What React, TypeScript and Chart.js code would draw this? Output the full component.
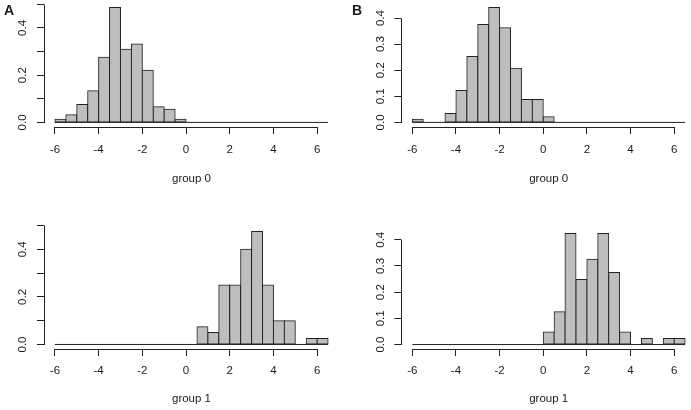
import React, { useEffect, useRef } from 'react';
import { Chart, registerables } from 'chart.js';

Chart.register(...registerables);

// ---- data ----
const BIN_WIDTH = 0.5;
const BREAK_START = -6;
const X_TICKS = [-6, -4, -2, 0, 2, 4, 6];

// 25 bins from -6 to 6.5 (densities)
const A_GROUP0 = [0.013, 0.032, 0.076, 0.134, 0.276, 0.486, 0.31, 0.332, 0.221, 0.066, 0.056, 0.013, 0, 0, 0, 0, 0, 0, 0, 0, 0, 0, 0, 0, 0];
const A_GROUP1 = [0, 0, 0, 0, 0, 0, 0, 0, 0, 0, 0, 0, 0, 0.075, 0.05, 0.25, 0.25, 0.4, 0.475, 0.25, 0.1, 0.1, 0, 0.025, 0.025];
const B_GROUP0 = [0.012, 0, 0, 0.034, 0.122, 0.253, 0.375, 0.44, 0.363, 0.208, 0.088, 0.088, 0.022, 0, 0, 0, 0, 0, 0, 0, 0, 0, 0, 0, 0];
const B_GROUP1 = [0, 0, 0, 0, 0, 0, 0, 0, 0, 0, 0, 0, 0.048, 0.125, 0.424, 0.248, 0.326, 0.424, 0.275, 0.048, 0, 0.023, 0, 0.023, 0.023];

const Y_TICKS_A = [0, 0.1, 0.2, 0.3, 0.4, 0.5];
const Y_LABELS_A = ['0.0', '', '0.2', '', '0.4', ''];
const Y_TICKS_B = [0, 0.1, 0.2, 0.3, 0.4];
const Y_LABELS_B = ['0.0', '0.1', '0.2', '0.3', '0.4'];

const TITLES = ['group 0', 'group 1'];
const LETTERS = ['A', 'B'];

const FONT = "'Liberation Sans', Arial, sans-serif";
const TEXT = '#1a1a1a';
const LINE = '#222222';
const FILL = '#bebebe';

type Layout = {
  left: number; top: number; width: number; height: number;
  areaLeft: number; areaRight: number; areaTop: number; areaBottom: number;
  tickPad: number; titlePad: number; letterX: number;
};

function alignPx(v: number) {
  return Math.round(v - 0.5) + 0.5;
}

const rAxesPlugin = {
  id: 'rAxes',
  afterDraw(chart: any) {
    const ctx = chart.ctx;
    const area = chart.chartArea;
    const xs = chart.scales.x;
    const ys = chart.scales.y;
    const popts = chart.options.plugins.rAxes || {};
    ctx.save();
    ctx.strokeStyle = LINE;
    ctx.lineWidth = 1;
    ctx.beginPath();
    const yb = alignPx(area.bottom);
    ctx.moveTo(alignPx(xs.getPixelForValue(xs.ticks[0].value)), yb);
    ctx.lineTo(alignPx(xs.getPixelForValue(xs.ticks[xs.ticks.length - 1].value)) + 0.5, yb);
    const xl = alignPx(area.left);
    ctx.moveTo(xl, alignPx(ys.getPixelForValue(ys.ticks[0].value)) + 0.5);
    ctx.lineTo(xl, alignPx(ys.getPixelForValue(ys.ticks[ys.ticks.length - 1].value)));
    ctx.stroke();
    if (popts.letter) {
      ctx.fillStyle = TEXT;
      ctx.font = `bold 14px ${FONT}`;
      ctx.textBaseline = 'alphabetic';
      ctx.textAlign = 'left';
      ctx.fillText(popts.letter, popts.letterX, popts.letterY);
    }
    ctx.restore();
  },
};

function Panel(props: {
  values: number[]; yTicks: number[]; yLabels: string[]; title: string;
  letter: string | null; layout: Layout;
}) {
  const ref = useRef<HTMLCanvasElement | null>(null);
  useEffect(() => {
    const { values, yTicks, yLabels, title, letter, layout: L } = props;
    const breakEnd = BREAK_START + values.length * BIN_WIDTH;
    const xPad = 0.04 * (breakEnd - BREAK_START);
    const yMaxVal = Math.max(...values);
    const bars = values.map((v, i) => ({ x: BREAK_START + (i + 0.5) * BIN_WIDTH, y: v }));
    const baseline = [{ x: BREAK_START, y: 0 }, { x: breakEnd, y: 0 }];
    const chart = new Chart(ref.current as HTMLCanvasElement, {
      type: 'bar',
      data: {
        datasets: [
          {
            type: 'bar',
            data: bars as any,
            backgroundColor: FILL,
            borderColor: LINE,
            borderWidth: 1,
            borderSkipped: false,
            barPercentage: 1,
            categoryPercentage: 1,
            inflateAmount: 0.5,
            order: 1,
          } as any,
          {
            type: 'line',
            data: baseline as any,
            borderColor: LINE,
            borderWidth: 1,
            pointRadius: 0,
            fill: false,
            order: 0,
          } as any,
        ],
      },
      options: {
        responsive: false,
        maintainAspectRatio: false,
        animation: false,
        events: [],
        layout: {
          padding: {
            left: 0,
            top: L.areaTop,
            right: L.width - L.areaRight,
            bottom: 0,
          },
        },
        plugins: {
          legend: { display: false },
          tooltip: { enabled: false },
          rAxes: { letter, letterX: L.letterX, letterY: 15 },
        } as any,
        scales: {
          x: {
            type: 'linear',
            min: BREAK_START - xPad,
            max: breakEnd + xPad,
            offset: false,
            border: { display: false },
            grid: { drawOnChartArea: false, drawTicks: true, tickLength: 7, color: LINE, lineWidth: 1, offset: false },
            afterBuildTicks: (s: any) => { s.ticks = X_TICKS.map((v) => ({ value: v })); },
            afterFit: (s: any) => {
              s.height = L.height - L.areaBottom;
              s.paddingLeft = 0; s.paddingRight = 0; s.paddingTop = 0; s.paddingBottom = 0;
            },
            ticks: {
              autoSkip: false,
              maxRotation: 0,
              minRotation: 0,
              padding: L.tickPad,
              color: TEXT,
              font: { family: FONT, size: 11.5 },
              callback: (v: any) => String(v),
            },
            title: {
              display: true,
              text: title,
              color: TEXT,
              font: { family: FONT, size: 11.5 },
              padding: { top: 0, bottom: L.titlePad },
            },
          },
          y: {
            type: 'linear',
            min: -0.04 * yMaxVal,
            max: 1.04 * yMaxVal,
            border: { display: false },
            grid: { drawOnChartArea: false, drawTicks: true, tickLength: 7, color: LINE, lineWidth: 1 },
            afterBuildTicks: (s: any) => { s.ticks = yTicks.map((v) => ({ value: v })); },
            afterFit: (s: any) => {
              s.width = L.areaLeft;
              s.paddingLeft = 0; s.paddingRight = 0; s.paddingTop = 0; s.paddingBottom = 0;
            },
            ticks: {
              autoSkip: false,
              minRotation: 90,
              maxRotation: 90,
              crossAlign: 'center',
              padding: 6,
              color: TEXT,
              font: { family: FONT, size: 11.5 },
              callback: (_v: any, i: number) => yLabels[i],
            },
          },
        },
      } as any,
      plugins: [rAxesPlugin as any],
    });
    return () => chart.destroy();
  }, []);
  const L = props.layout;
  return (
    <canvas
      ref={ref}
      width={L.width}
      height={L.height}
      style={{ position: 'absolute', left: L.left, top: L.top, width: L.width, height: L.height }}
    />
  );
}

const LAYOUT_A0: Layout = { left: 0, top: 0, width: 345, height: 205, areaLeft: 44, areaRight: 339, areaTop: 3, areaBottom: 127, tickPad: 9, titlePad: 19, letterX: 4 };
const LAYOUT_B0: Layout = { left: 345, top: 0, width: 360, height: 205, areaLeft: 56.4, areaRight: 351, areaTop: 3, areaBottom: 127, tickPad: 9, titlePad: 19, letterX: 7 };
const LAYOUT_A1: Layout = { left: 0, top: 205, width: 345, height: 205, areaLeft: 44, areaRight: 339, areaTop: 22, areaBottom: 144, tickPad: 8, titlePad: 4, letterX: 4 };
const LAYOUT_B1: Layout = { left: 345, top: 205, width: 360, height: 205, areaLeft: 56.4, areaRight: 351, areaTop: 24, areaBottom: 144, tickPad: 8, titlePad: 4, letterX: 7 };

export default function App() {
  return (
    <div style={{ position: 'fixed', left: 0, top: 0, width: 691, height: 410, overflow: 'hidden', background: '#ffffff' }}>
      <Panel values={A_GROUP0} yTicks={Y_TICKS_A} yLabels={Y_LABELS_A} title={TITLES[0]} letter={LETTERS[0]} layout={LAYOUT_A0} />
      <Panel values={B_GROUP0} yTicks={Y_TICKS_B} yLabels={Y_LABELS_B} title={TITLES[0]} letter={LETTERS[1]} layout={LAYOUT_B0} />
      <Panel values={A_GROUP1} yTicks={Y_TICKS_A} yLabels={Y_LABELS_A} title={TITLES[1]} letter={null} layout={LAYOUT_A1} />
      <Panel values={B_GROUP1} yTicks={Y_TICKS_B} yLabels={Y_LABELS_B} title={TITLES[1]} letter={null} layout={LAYOUT_B1} />
    </div>
  );
}
